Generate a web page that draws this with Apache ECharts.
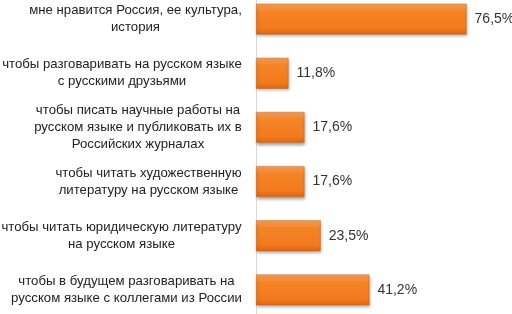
<!DOCTYPE html>
<html>
<head>
<meta charset="utf-8">
<script src="https://cdn.jsdelivr.net/npm/echarts@6/dist/echarts.min.js"></script>
<style>
  html, body { margin: 0; padding: 0; background: #fff; }
  #chart { width: 512px; height: 314px; }
</style>
</head>
<body>
<div id="chart"></div>
<script>
// категории (снизу вверх, как на оси)
var categories = [
    'чтобы в будущем разговаривать на\nрусском языке с коллегами из России',
    'чтобы читать юридическую литературу\nна русском языке',
    'чтобы читать художественную\nлитературу на русском языке',
    'чтобы писать научные работы на\nрусском языке и публиковать их в\nРоссийских журналах',
    'чтобы разговаривать на русском языке\nс русскими друзьями',
    'мне нравится Россия, ее культура,\nистория'
];
var values = [41.2, 23.5, 17.6, 17.6, 11.8, 76.5];

var FONT = 'Liberation Sans Narrow, Arial Narrow, Liberation Sans, sans-serif';
var FSIZE = 13.2;

// ширина блока подписи, чтобы строки центрировались внутри него
var ctx = document.createElement('canvas').getContext('2d');
ctx.font = FSIZE + 'px ' + FONT;
var rich = {};
categories.forEach(function (c, i) {
    var w = 0;
    c.split('\n').forEach(function (line) {
        w = Math.max(w, ctx.measureText(line).width);
    });
    rich['c' + i] = {width: Math.ceil(w), align: 'center', fontSize: FSIZE, fontFamily: FONT, color: '#222', lineHeight: 17};
});

var chart = echarts.init(document.getElementById('chart'));
var option = {
    animation: false,
    grid: {left: 256, right: 0, top: -8, height: 325, outerBoundsMode: 'none', containLabel: false},
    xAxis: {
        type: 'value',
        min: 0,
        max: 93,
        show: false
    },
    yAxis: {
        type: 'category',
        data: categories,
        axisLine: {show: true, lineStyle: {color: '#d9d9d9', width: 1}},
        axisTick: {show: false},
        axisLabel: {
            margin: 14,
            align: 'right',
            formatter: function (value, idx) {
                return value.split('\n').map(function (l) {
                    return '{c' + idx + '|' + l + '}';
                }).join('\n');
            },
            rich: rich
        }
    },
    series: [{
        type: 'bar',
        data: values,
        barCategoryGap: '43%',
        itemStyle: {
            color: new echarts.graphic.LinearGradient(0, 0, 0, 1, [
                {offset: 0, color: '#f9a45e'},
                {offset: 0.25, color: '#f58427'},
                {offset: 0.8, color: '#f27a1c'},
                {offset: 1, color: '#d9661a'}
            ]),
            borderColor: '#c8641e',
            borderWidth: 0.5,
            shadowColor: 'rgba(0,0,0,0.35)',
            shadowBlur: 3,
            shadowOffsetX: 1,
            shadowOffsetY: 2
        },
        label: {
            show: true,
            position: 'right',
            distance: 8,
            color: '#333',
            fontSize: 14,
            fontFamily: FONT,
            formatter: function (p) {
                return p.value.toFixed(1).replace('.', ',') + '%';
            }
        }
    }]
};
chart.setOption(option);
</script>
</body>
</html>
